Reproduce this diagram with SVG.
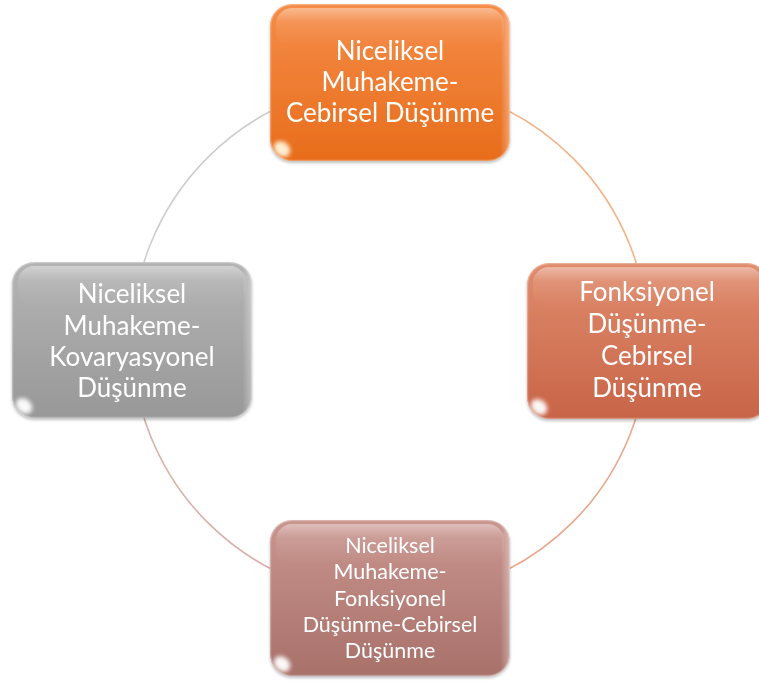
<svg xmlns="http://www.w3.org/2000/svg" width="759" height="682" viewBox="0 0 759 682">
  <defs>
    <linearGradient id="gOrange" x1="0" y1="0" x2="0" y2="1">
      <stop offset="0" stop-color="#f58c48"/>
      <stop offset="1" stop-color="#e86d1b"/>
    </linearGradient>
    <linearGradient id="gCoral" x1="0" y1="0" x2="0" y2="1">
      <stop offset="0" stop-color="#e08c6d"/>
      <stop offset="1" stop-color="#c86448"/>
    </linearGradient>
    <linearGradient id="gGray" x1="0" y1="0" x2="0" y2="1">
      <stop offset="0" stop-color="#b4b4b4"/>
      <stop offset="1" stop-color="#989898"/>
    </linearGradient>
    <linearGradient id="gRose" x1="0" y1="0" x2="0" y2="1">
      <stop offset="0" stop-color="#c9958f"/>
      <stop offset="1" stop-color="#a8716a"/>
    </linearGradient>
    <linearGradient id="gShine" x1="0" y1="0" x2="0" y2="1">
      <stop offset="0" stop-color="#ffffff" stop-opacity="0.4"/>
      <stop offset="0.35" stop-color="#ffffff" stop-opacity="0.1"/>
      <stop offset="1" stop-color="#ffffff" stop-opacity="0"/>
    </linearGradient>
    <linearGradient id="gEdge" x1="0" y1="0" x2="1" y2="0">
      <stop offset="0" stop-color="#ffffff" stop-opacity="0"/>
      <stop offset="0.96" stop-color="#ffffff" stop-opacity="0"/>
      <stop offset="1" stop-color="#ffffff" stop-opacity="0.35"/>
    </linearGradient>
    <filter id="soft" x="-50%" y="-50%" width="200%" height="200%">
      <feGaussianBlur stdDeviation="2.2"/>
    </filter>
    <filter id="shadow" x="-10%" y="-10%" width="120%" height="120%">
      <feGaussianBlur in="SourceAlpha" stdDeviation="1.5"/>
      <feOffset dx="0" dy="1.5"/>
      <feComponentTransfer><feFuncA type="linear" slope="0.25"/></feComponentTransfer>
      <feMerge><feMergeNode/><feMergeNode in="SourceGraphic"/></feMerge>
    </filter>
    <clipPath id="cTop"><rect x="270" y="4" width="240" height="157" rx="22"/></clipPath>
    <clipPath id="cRight"><rect x="527" y="263" width="242" height="156" rx="22"/></clipPath>
    <clipPath id="cLeft"><rect x="12" y="262" width="240" height="156" rx="22"/></clipPath>
    <clipPath id="cBottom"><rect x="270" y="520" width="240" height="156" rx="22"/></clipPath>
  </defs>
  <style>
    .arc { fill: none; stroke-width: 1.6; }
    .lbl { font-family: Lato, "Open Sans", "Liberation Sans", sans-serif; fill: #ffffff; text-anchor: middle; }
    .big { font-size: 26px; }
    .small { font-size: 21.5px; }
    .rim { fill: none; stroke: #ffffff; stroke-opacity: 0.3; stroke-width: 1.2; }
    .glow { fill: #ffffff; opacity: 0.95; }
  </style>

  <!-- cycle ring drawn as four coloured arcs -->
  <g id="connectors">
    <path class="arc" stroke="#f3b387" d="M390 82 A258 258 0 0 1 648 340"/>
    <path class="arc" stroke="#e9a78c" d="M648 340 A258 258 0 0 1 390 598"/>
    <path class="arc" stroke="#d8b0aa" d="M390 598 A258 258 0 0 1 132 340"/>
    <path class="arc" stroke="#cdcdcd" d="M132 340 A258 258 0 0 1 390 82"/>
  </g>

  <g id="node-top" filter="url(#shadow)">
    <rect x="270" y="4" width="240" height="157" rx="22" fill="url(#gOrange)"/>
    <g clip-path="url(#cTop)">
      <rect x="270" y="4" width="240" height="157" fill="url(#gEdge)"/>
      <rect x="276" y="8" width="228" height="40" rx="16" fill="url(#gShine)"/>
      <ellipse class="glow" cx="282" cy="149" rx="9" ry="7" transform="rotate(40 282 149)" style="fill:#fff6dc" filter="url(#soft)"/>
    </g>
    <rect class="rim" x="270.6" y="4.6" width="238.8" height="155.8" rx="21.5"/>
    <text class="lbl big" x="390" y="60">Niceliksel</text>
    <text class="lbl big" x="390" y="91">Muhakeme-</text>
    <text class="lbl big" x="390" y="122">Cebirsel Düşünme</text>
  </g>

  <g id="node-right" filter="url(#shadow)">
    <rect x="527" y="263" width="242" height="156" rx="22" fill="url(#gCoral)"/>
    <g clip-path="url(#cRight)">
      <rect x="533" y="267" width="230" height="40" rx="16" fill="url(#gShine)"/>
      <ellipse class="glow" cx="539" cy="407" rx="9" ry="7" transform="rotate(40 539 407)" filter="url(#soft)"/>
    </g>
    <rect class="rim" x="527.6" y="263.6" width="240.8" height="154.8" rx="21.5"/>
    <text class="lbl big" x="647" y="301">Fonksiyonel</text>
    <text class="lbl big" x="647" y="333">Düşünme-</text>
    <text class="lbl big" x="647" y="365">Cebirsel</text>
    <text class="lbl big" x="647" y="397">Düşünme</text>
  </g>

  <g id="node-left" filter="url(#shadow)">
    <rect x="12" y="262" width="240" height="156" rx="22" fill="url(#gGray)"/>
    <g clip-path="url(#cLeft)">
      <rect x="12" y="262" width="240" height="156" fill="url(#gEdge)"/>
      <rect x="18" y="266" width="228" height="40" rx="16" fill="url(#gShine)"/>
      <ellipse class="glow" cx="24" cy="406" rx="9" ry="7" transform="rotate(40 24 406)" filter="url(#soft)"/>
    </g>
    <rect class="rim" x="12.6" y="262.6" width="238.8" height="154.8" rx="21.5"/>
    <text class="lbl big" x="132" y="303">Niceliksel</text>
    <text class="lbl big" x="132" y="335">Muhakeme-</text>
    <text class="lbl big" x="132" y="366">Kovaryasyonel</text>
    <text class="lbl big" x="132" y="397">Düşünme</text>
  </g>

  <g id="node-bottom" filter="url(#shadow)">
    <rect x="270" y="520" width="240" height="156" rx="22" fill="url(#gRose)"/>
    <g clip-path="url(#cBottom)">
      <rect x="270" y="520" width="240" height="156" fill="url(#gEdge)"/>
      <rect x="276" y="524" width="228" height="40" rx="16" fill="url(#gShine)"/>
      <ellipse class="glow" cx="282" cy="664" rx="9" ry="7" transform="rotate(40 282 664)" filter="url(#soft)"/>
    </g>
    <rect class="rim" x="270.6" y="520.6" width="238.8" height="154.8" rx="21.5"/>
    <text class="lbl small" x="390" y="553">Niceliksel</text>
    <text class="lbl small" x="390" y="579">Muhakeme-</text>
    <text class="lbl small" x="390" y="606">Fonksiyonel</text>
    <text class="lbl small" x="390" y="632">Düşünme-Cebirsel</text>
    <text class="lbl small" x="390" y="658">Düşünme</text>
  </g>
</svg>
